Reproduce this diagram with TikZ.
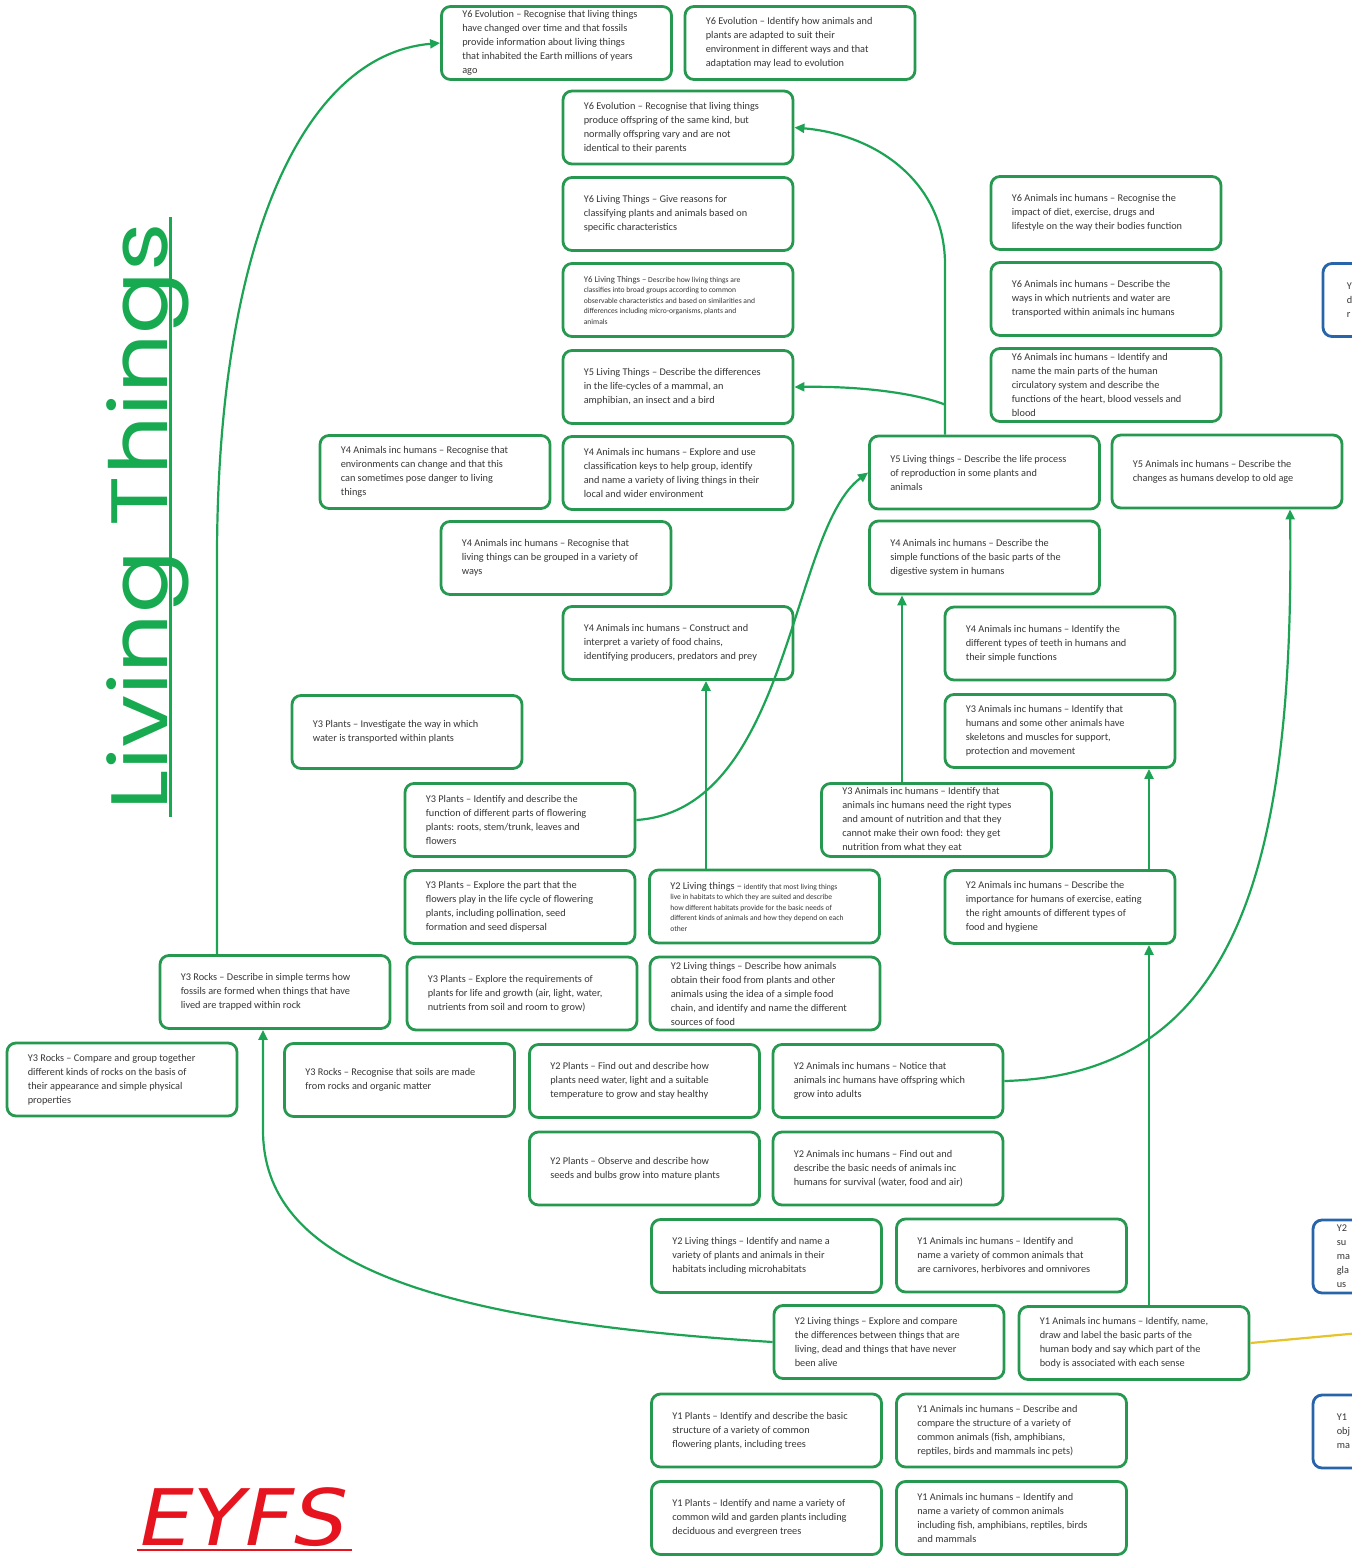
\documentclass[tikz,border=0pt]{standalone}
\usepackage{fontspec}
\setmainfont{Carlito}
\newfontfamily\titlefont{Poppins}
\newfontfamily\eyfsfont{DejaVu Sans}
\usetikzlibrary{arrows.meta}
\definecolor{boxgreen}{RGB}{38,152,80}
\definecolor{linegreen}{RGB}{28,163,84}
\definecolor{titlegreen}{RGB}{24,170,80}
\definecolor{txtgray}{RGB}{55,55,55}
\definecolor{boxblue}{RGB}{40,100,170}
\definecolor{eyfsred}{RGB}{230,20,30}
\definecolor{linkyellow}{RGB}{230,195,40}
\newcommand{\smalltxt}{\fontsize{7.6}{10.5}\selectfont}
\tikzset{
  lbox/.style={draw=boxgreen, line width=2.8pt, rounded corners=9pt, fill=white,
    minimum width=230pt, minimum height=73pt, inner sep=0pt},
  bbox/.style={lbox, draw=boxblue},
  ltext/.style={anchor=west, align=left, text=txtgray, inner sep=0pt,
    font=\fontsize{10.3}{14}\selectfont},
  smallltext/.style={ltext, font=\smalltxt},
  conn/.style={draw=linegreen, line width=2.2pt, -{Triangle[length=10pt,width=9pt]}},
  plainlink/.style={draw=linkyellow, line width=2.2pt},
}
% box with its text: [text style]{name}{centre}{text}
\newcommand{\tbox}[4][ltext]{\node[lbox] (#2) at (#3) {};\node[#1] (#2-t) at ([xshift=22pt]#2.west) {#4};}
\newcommand{\bluebox}[3]{\node[bbox] (#1) at (#2) {};\node[ltext] (#1-t) at ([xshift=25pt]#1.west) {#3};}
\begin{document}
\begin{tikzpicture}[x=1pt,y=-1pt]
\useasboundingbox (0,0) rectangle (1351,1562);

% ---- title and EYFS
\node[transform shape, rotate=90, xscale=1.16, anchor=base, text=titlegreen, font=\titlefont\fontsize{80}{90}\selectfont, inner sep=0] (title) at (167,517) {Living Things};
\draw[titlegreen, line width=3pt] ([xshift=3pt,yshift=-6pt]title.base west) -- ([xshift=3pt,yshift=6pt]title.base east);
\node[transform shape, xscale=1.09, anchor=base west, text=eyfsred, font=\eyfsfont\itshape\fontsize{78}{80}\selectfont, inner sep=0] (eyfs) at (140,1545) {EYFS};
\draw[eyfsred, line width=2pt] ([xshift=-3pt,yshift=-5pt]eyfs.base west) -- ([xshift=3pt,yshift=-5pt]eyfs.base east);

% ---- centre column
\tbox{evo1}{556.5,43}{Y6 Evolution – Recognise that living things\\have changed over time and that fossils\\provide information about living things\\that inhabited the Earth millions of years\\ago}
\tbox{evo2}{800,43}{Y6 Evolution – Identify how animals and\\plants are adapted to suit their\\environment in different ways and that\\adaptation may lead to evolution}
\tbox{evo3}{678,127.5}{Y6 Evolution – Recognise that living things\\produce offspring of the same kind, but\\normally offspring vary and are not\\identical to their parents}
\tbox{lt6a}{678,214}{Y6 Living Things – Give reasons for\\classifying plants and animals based on\\specific characteristics}
\tbox[smallltext]{lt6b}{678,300}{{\fontsize{8.8}{10.5}\selectfont Y6 Living Things –} Describe how living things are\\classifies into broad groups according to common\\observable characteristics and based on similarities and\\differences including micro-organisms, plants and\\animals}
\tbox{lt5a}{678,387}{Y5 Living Things – Describe the differences\\in the life-cycles of a mammal, an\\amphibian, an insect and a bird}
\tbox{y4a}{678,473}{Y4 Animals inc humans – Explore and use\\classification keys to help group, identify\\and name a variety of living things in their\\local and wider environment}
\tbox{y4b}{435,472}{Y4 Animals inc humans – Recognise that\\environments can change and that this\\can sometimes pose danger to living\\things}
\tbox{y4c}{556,558}{Y4 Animals inc humans – Recognise that\\living things can be grouped in a variety of\\ways}
\tbox{y4d}{678,643}{Y4 Animals inc humans – Construct and\\interpret a variety of food chains,\\identifying producers, predators and prey}
\tbox{y3p1}{407,732}{Y3 Plants – Investigate the way in which\\water is transported within plants}
\tbox{y3p2}{520,820}{Y3 Plants – Identify and describe the\\function of different parts of flowering\\plants: roots, stem/trunk, leaves and\\flowers}
\tbox{y3p3}{520,907}{Y3 Plants – Explore the part that the\\flowers play in the life cycle of flowering\\plants, including pollination, seed\\formation and seed dispersal}
\tbox{y3p4}{522,993.5}{Y3 Plants – Explore the requirements of\\plants for life and growth (air, light, water,\\nutrients from soil and room to grow)}
\tbox{y3r1}{275,992}{Y3 Rocks – Describe in simple terms how\\fossils are formed when things that have\\lived are trapped within rock}
\tbox{y3r2}{122,1079.5}{Y3 Rocks – Compare and group together\\different kinds of rocks on the basis of\\their appearance and simple physical\\properties}
\tbox{y3r3}{399.5,1080}{Y3 Rocks – Recognise that soils are made\\from rocks and organic matter}
\tbox[smallltext]{y2l1}{764.5,906.5}{{\fontsize{10.3}{10.5}\selectfont Y2 Living things –} identify that most living things\\live in habitats to which they are suited and describe\\how different habitats provide for the basic needs of\\different kinds of animals and how they depend on each\\other}
\tbox{y2l2}{765,993.5}{Y2 Living things – Describe how animals\\obtain their food from plants and other\\animals using the idea of a simple food\\chain, and identify and name the different\\sources of food}
\tbox{y2p1}{644.5,1081}{Y2 Plants – Find out and describe how\\plants need water, light and a suitable\\temperature to grow and stay healthy}
\tbox{y2a1}{888,1081}{Y2 Animals inc humans – Notice that\\animals inc humans have offspring which\\grow into adults}
\tbox{y2p2}{644.5,1168.5}{Y2 Plants – Observe and describe how\\seeds and bulbs grow into mature plants}
\tbox{y2a2}{888,1168.5}{Y2 Animals inc humans – Find out and\\describe the basic needs of animals inc\\humans for survival (water, food and air)}
\tbox{y2l3}{766.5,1256}{Y2 Living things – Identify and name a\\variety of plants and animals in their\\habitats including microhabitats}
\tbox{y1a1}{1011.5,1255.5}{Y1 Animals inc humans – Identify and\\name a variety of common animals that\\are carnivores, herbivores and omnivores}
\tbox{y2l4}{889,1342}{Y2 Living things – Explore and compare\\the differences between things that are\\living, dead and things that have never\\been alive}
\tbox{y1a2}{1134,1343}{Y1 Animals inc humans – Identify, name,\\draw and label the basic parts of the\\human body and say which part of the\\body is associated with each sense}
\tbox{y1p1}{766.5,1430.5}{Y1 Plants – Identify and describe the basic\\structure of a variety of common\\flowering plants, including trees}
\tbox{y1a3}{1011.5,1430.5}{Y1 Animals inc humans – Describe and\\compare the structure of a variety of\\common animals (fish, amphibians,\\reptiles, birds and mammals inc pets)}
\tbox{y1p2}{766.5,1518}{Y1 Plants – Identify and name a variety of\\common wild and garden plants including\\deciduous and evergreen trees}
\tbox{y1a4}{1011.5,1518}{Y1 Animals inc humans – Identify and\\name a variety of common animals\\including fish, amphibians, reptiles, birds\\and mammals}

% ---- right column
\tbox{y6a1}{1106,213}{Y6 Animals inc humans – Recognise the\\impact of diet, exercise, drugs and\\lifestyle on the way their bodies function}
\tbox{y6a2}{1106,299}{Y6 Animals inc humans – Describe the\\ways in which nutrients and water are\\transported within animals inc humans}
\tbox{y6a3}{1106,385}{Y6 Animals inc humans – Identify and\\name the main parts of the human\\circulatory system and describe the\\functions of the heart, blood vessels and\\blood}
\tbox{y5l}{984.5,472.5}{Y5 Living things – Describe the life process\\of reproduction in some plants and\\animals}
\tbox{y5a}{1227,471.5}{Y5 Animals inc humans – Describe the\\changes as humans develop to old age}
\tbox{y4a5}{984.5,557.5}{Y4 Animals inc humans – Describe the\\simple functions of the basic parts of the\\digestive system in humans}
\tbox{y4a6}{1060,643.5}{Y4 Animals inc humans – Identify the\\different types of teeth in humans and\\their simple functions}
\tbox{y3a1}{1060,731}{Y3 Animals inc humans – Identify that\\humans and some other animals have\\skeletons and muscles for support,\\protection and movement}
\tbox{y3a2}{936.5,820}{Y3 Animals inc humans – Identify that\\animals inc humans need the right types\\and amount of nutrition and that they\\cannot make their own food: they get\\nutrition from what they eat}
\tbox{y2a3}{1060,907}{Y2 Animals inc humans – Describe the\\importance for humans of exercise, eating\\the right amounts of different types of\\food and hygiene}

% ---- blue boxes cut by the right edge
\bluebox{blue1}{1438,300}{Y\\d\\r}
\bluebox{blue2}{1428,1256.5}{Y2\\su\\ma\\gla\\us}
\bluebox{blue3}{1428,1431.5}{Y1\\obj\\ma}
\coordinate (yellowend) at (1360,1333);

% ---- connectors
\draw[conn] ([xshift=-58pt]y3r1.north) -- ++(0,-396) .. controls (217,250) and (300,55) .. (evo1.west);
\draw[conn] ([xshift=-39.5pt]y5l.north) -- ++(0,-170) .. controls (945,185) and (880,135) .. (evo3.east);
\draw[conn] ([xshift=-39.5pt,yshift=30pt]y5l.north) .. controls (915,393) and (860,386) .. (lt5a.east);
\draw[conn] (y3p2.east) .. controls (790,810) and (790,530) .. (y5l.west);
\draw[conn] ([xshift=-58.5pt]y2l1.north) -- ([xshift=28pt]y4d.south);
\draw[conn] ([xshift=-34.5pt]y3a2.north) -- ([xshift=-82.5pt]y4a5.south);
\draw[conn] ([xshift=89pt]y2a3.north) -- ([xshift=89pt]y3a1.south);
\draw[conn] ([xshift=15pt]y1a2.north) -- ([xshift=89pt]y2a3.south);
\draw[conn] (y2a1.east) .. controls (1230,1075) and (1295,880) .. ([xshift=63pt]y5a.south);
\draw[conn] (y2l4.west) .. controls (420,1320) and (263,1260) .. (263,1130) -- ([xshift=-12pt]y3r1.south);
\draw[plainlink] (y1a2.east) -- (yellowend);
\end{tikzpicture}
\end{document}
